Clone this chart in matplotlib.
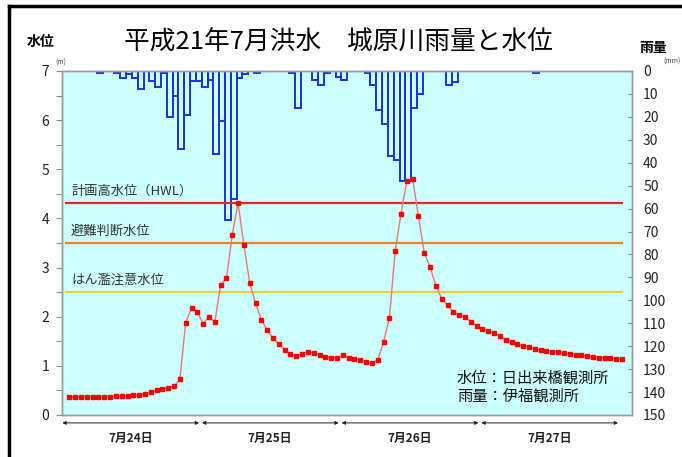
import numpy as np
import matplotlib
matplotlib.use("Agg")
import matplotlib.pyplot as plt
from matplotlib.lines import Line2D

plt.rcParams['font.family'] = ['Noto Sans CJK JP', 'DejaVu Sans']

#%% data (hourly, 7/24 1:00 -> 7/28 0:00)

hours = np.arange(1, 97)

# water level at 日出来橋 (m)
level = [0.37, 0.37, 0.37, 0.37, 0.37, 0.37, 0.37, 0.37, 0.38, 0.38,
         0.39, 0.40, 0.41, 0.43, 0.46, 0.51, 0.52, 0.54, 0.58, 0.73,
         1.88, 2.18, 2.09, 1.86, 2.00, 1.89, 2.65, 2.78, 3.67, 4.31,
         3.46, 2.69, 2.27, 1.94, 1.73, 1.56, 1.45, 1.33, 1.24, 1.20,
         1.25, 1.29, 1.26, 1.22, 1.19, 1.16, 1.16, 1.22, 1.17, 1.14,
         1.12, 1.08, 1.06, 1.12, 1.48, 1.97, 3.33, 4.10, 4.76, 4.81,
         4.04, 3.30, 3.01, 2.63, 2.37, 2.23, 2.10, 2.03, 1.99, 1.90,
         1.82, 1.76, 1.71, 1.67, 1.61, 1.53, 1.49, 1.44, 1.41, 1.38,
         1.35, 1.33, 1.31, 1.29, 1.28, 1.26, 1.24, 1.23, 1.22, 1.20,
         1.18, 1.17, 1.16, 1.16, 1.14, 1.13]

# hourly rain at 伊福 (mm)
rain = [0, 0, 0, 0, 0, 1, 0, 0, 1, 3,
        1.5, 3, 8, 0, 4.4, 6.8, 1, 20, 11, 34,
        19, 4.5, 4.5, 7, 3.8, 36, 22, 65, 56, 3,
        1.5, 0, 1, 0, 0, 0, 0, 0, 1, 16,
        0, 0, 4, 6, 1, 0, 2.8, 4, 0, 0,
        0, 1, 6, 17, 23, 37, 39, 48, 48, 16,
        10, 0, 0, 0, 0, 6, 5, 0, 0, 0,
        0, 0, 0, 0, 0, 0, 0, 0, 0, 0,
        1, 0, 0, 0, 0, 0, 0, 0, 0, 0,
        0, 0, 0, 0, 0, 0]

# reference levels (m)
ref_levels = [4.32, 3.5, 2.5]
ref_names = ['計画高水位（HWL）', '避難判断水位', 'はん濫注意水位']
ref_colors = ['#E02828', '#F08028', '#F0D030']

days = ['7月24日', '7月25日', '7月26日', '7月27日']

title = '平成21年7月洪水　城原川雨量と水位'
note = '水位：日出来橋観測所\n雨量：伊福観測所'

#%% figure

W, H = 682, 457
fig = plt.figure(figsize=(W / 100, H / 100), dpi=100)
fig.patch.set_facecolor('white')

L, R, T, B = 62, 632, 71, 415
ax2 = fig.add_axes([L / W, 1 - B / H, (R - L) / W, (B - T) / H])
ax = ax2.twinx()
ax.set_zorder(ax2.get_zorder() + 1)
ax.patch.set_visible(False)
ax2.set_facecolor('#CCFFFF')

# rain bars hanging from the top (right axis)
rain = np.array(rain)
m = rain > 0
ax2.bar(hours[m] + 0.25, rain[m], width=1.0, facecolor='none',
        edgecolor='#1A30E8', linewidth=1.4)
ax2.set_ylim(150, 0)
ax2.set_yticks(np.arange(0, 151, 10))
ax2.yaxis.tick_right()
ax2.tick_params(axis='y', direction='in', length=3, width=0.8, colors='#888888',
                labelcolor='#222222', labelsize=10, pad=8)

# water level (left axis)
ax.yaxis.tick_left()
ax.yaxis.set_label_position('left')
for lv, nm, c in zip(ref_levels, ref_names, ref_colors):
    ax.hlines(lv, 0.3, 96.2, color=c, linewidth=1.6, zorder=2)
    ax.text(1.3, lv + 0.1, nm, fontsize=9.5, color='#333333', va='bottom', ha='left')

ax.plot(hours, level, color='#E87878', linewidth=1.0, marker='s', markersize=3.3,
        markerfacecolor='#FF0000', markeredgecolor='#FF0000', zorder=3)

ax.set_ylim(0, 7)
ax.set_yticks(np.arange(0, 8, 1))
ax.set_yticks(np.arange(0.5, 7, 1), minor=True)
ax.tick_params(axis='y', which='both', direction='out', length=4, width=0.8,
               colors='#888888', labelcolor='#222222', labelsize=10, pad=5)
ax.set_xlim(-0.26, 97.7)
for a in (ax, ax2):
    a.set_xticks([])
    for s in a.spines.values():
        s.set_color('#999999')
        s.set_linewidth(1.0)

ax.text(0.693, 0.03, note, transform=ax.transAxes, ha='left', va='bottom',
        multialignment='left', fontsize=11, color='#111111', linespacing=1.1)

# day spans under the axis
tr = ax.get_xaxis_transform()
for d, lab in enumerate(days):
    x0, x1 = 24 * d - 0.2, 24 * d + 23.3
    ax.annotate('', xy=(x0, -0.023), xytext=(x1, -0.023), xycoords=tr,
                textcoords=tr, annotation_clip=False,
                arrowprops=dict(arrowstyle='<|-|>', color='#222222', lw=0.7,
                                mutation_scale=5, shrinkA=0, shrinkB=0))
    ax.text(24 * d + 11.5, -0.068, lab, transform=tr, ha='center', va='center',
            fontsize=8.5, fontweight='bold', color='#222222')

# titles and axis captions
fig.text(338 / W, 1 - 42 / H, title, ha='center', va='center', fontsize=18.5)
fig.text(41 / W, 1 - 42 / H, '水位', ha='center', va='center', fontsize=10,
         fontweight='bold')
fig.text(653 / W, 1 - 48 / H, '雨量', ha='center', va='center', fontsize=10,
         fontweight='bold')
fig.text(61 / W, 1 - 63 / H, '(m)', ha='center', va='center', fontsize=5,
         color='#444444')
fig.text(672 / W, 1 - 62 / H, '(mm)', ha='center', va='center', fontsize=5,
         color='#444444')

# black frame (left and top)
fig.add_artist(Line2D([8.5 / W, 8.5 / W], [0, 1 - 5.5 / H], color='black',
                      linewidth=2.5, transform=fig.transFigure))
fig.add_artist(Line2D([8.5 / W, 1], [1 - 5.5 / H, 1 - 5.5 / H], color='black',
                      linewidth=2.5, transform=fig.transFigure))

fig.savefig('out.png', dpi=100)
